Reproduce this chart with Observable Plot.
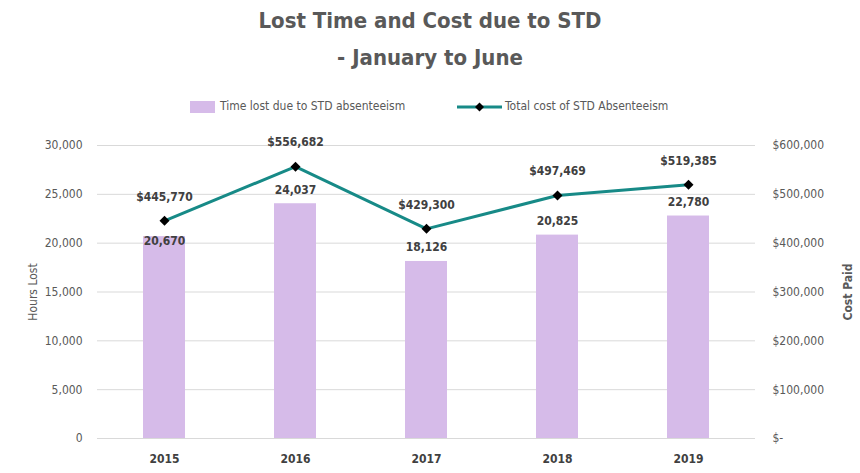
<!DOCTYPE html>
<html>
<head>
<meta charset="utf-8">
<script src="https://cdn.jsdelivr.net/npm/d3@7"></script>
<script src="https://cdn.jsdelivr.net/npm/@observablehq/plot@0.6"></script>
<style>
  html, body { margin: 0; padding: 0; background: #fff; }
  body { width: 860px; height: 473px; overflow: hidden; font-family: "Liberation Sans Narrow", "DejaVu Sans Condensed", Roboto, sans-serif; }
  .title { text-align: center; color: #595959; font-weight: bold; font-size: 22px; line-height: 37px; padding-top: 2px; }
  .legend { position: absolute; top: 97px; left: 0; width: 860px; height: 20px; font-size: 12px; color: #595959; }
  .legend span { position: absolute; top: 2px; }
  #chart { position: absolute; top: 125px; left: 0; }
</style>
</head>
<body>
<div class="title">Lost Time and Cost due to STD<br>- January to June</div>
<div class="legend">
  <svg width="860" height="20" style="position:absolute;left:0;top:0">
    <rect x="190" y="4" width="25" height="12" fill="#D6BBE9"></rect>
    <line x1="457" x2="502" y1="10" y2="10" stroke="#178A87" stroke-width="3"></line>
    <path d="M479.5,5.5 L484,10 L479.5,14.5 L475,10 Z" fill="#000"></path>
  </svg>
  <span style="left:220px">Time lost due to STD absenteeism</span>
  <span style="left:505px">Total cost of STD Absenteeism</span>
</div>
<div id="chart"></div>
<script>
const years = ["2015", "2016", "2017", "2018", "2019"];
const hoursLost = [20670, 24037, 18126, 20825, 22780];
const costPaid = [445770, 556682, 429300, 497469, 519385];
const hoursTicks = [0, 5000, 10000, 15000, 20000, 25000, 30000];
const costTicks = [0, 100000, 200000, 300000, 400000, 500000, 600000];

const ratio = 600000 / 30000;
const data = years.map((y, i) => ({year: y, hours: hoursLost[i], cost: costPaid[i], costScaled: costPaid[i] / ratio}));
const fmt = d3.format(",");
const font = "'Liberation Sans Narrow', 'DejaVu Sans Condensed', Roboto, sans-serif";

const chart = Plot.plot({
  width: 860,
  height: 348,
  marginLeft: 97,
  marginRight: 105,
  marginTop: 20,
  marginBottom: 35,
  style: {fontFamily: font, fontSize: "12px", color: "#595959", background: "#fff"},
  x: {domain: years, paddingInner: 0.68, paddingOuter: 0.34, label: null},
  y: {domain: [0, 30000], label: null},
  marks: [
    Plot.gridY(hoursTicks, {stroke: "#D9D9D9", strokeOpacity: 1, strokeWidth: 1}),
    Plot.barY(data, {x: "year", y: "hours", fill: "#D6BBE9"}),
    Plot.axisY(hoursTicks, {anchor: "left", tickSize: 0, tickPadding: 15, tickFormat: d => fmt(d), fill: "#595959", label: "Hours Lost", labelAnchor: "center", labelArrow: "none", labelOffset: 69}),
    Plot.axisY(hoursTicks, {anchor: "right", tickSize: 0, tickPadding: 17, textAnchor: "start", tickFormat: d => d === 0 ? "$-" : "$" + fmt(d * ratio), fill: "#595959", label: null}),
    Plot.text(["Cost Paid"], {frameAnchor: "right", textAnchor: "middle", dx: 93, rotate: -90, fill: "#595959", fontWeight: "bold", fontSize: 12}),
    Plot.axisX({tickSize: 0, tickPadding: 16, fill: "#404040", fontWeight: "bold", fontSize: 12, label: null}),
    Plot.line(data, {x: "year", y: "costScaled", stroke: "#178A87", strokeWidth: 3}),
    Plot.dot(data, {x: "year", y: "costScaled", symbol: "diamond2", r: 4.5, fill: "#000", stroke: "none"}),
    Plot.text(data, {x: "year", y: "costScaled", text: d => "$" + fmt(d.cost), dy: -24, fill: "#404040", fontWeight: "bold", fontSize: 12}),
    Plot.text(data.filter(d => d.year !== "2015"), {x: "year", y: "hours", text: d => fmt(d.hours), dy: -14, fill: "#404040", fontWeight: "bold", fontSize: 12}),
    Plot.text(data.filter(d => d.year === "2015"), {x: "year", y: "hours", text: d => fmt(d.hours), dy: 5, fill: "#404040", fontWeight: "bold", fontSize: 12})
  ]
});
document.getElementById("chart").appendChild(chart);
</script>
</body>
</html>
